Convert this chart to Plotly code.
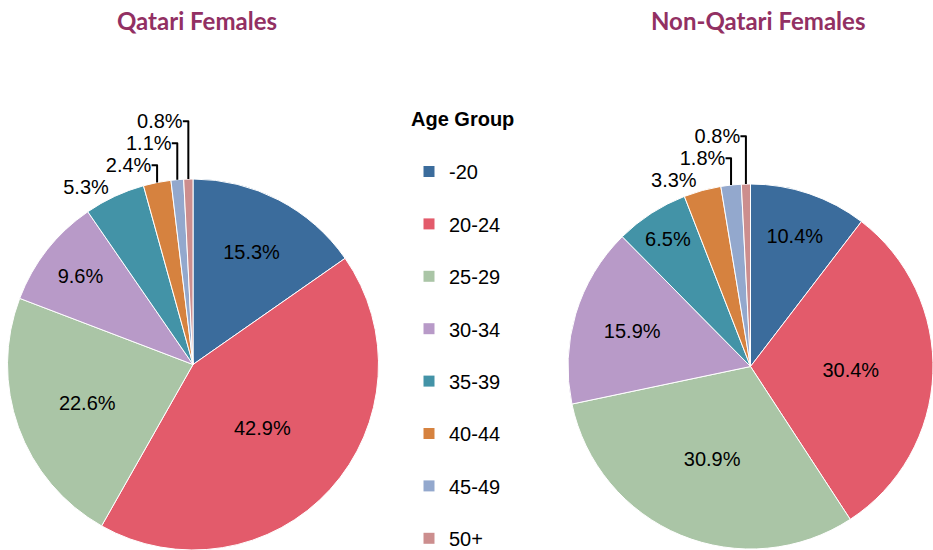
import plotly.graph_objects as go

age_groups = ["-20", "20-24", "25-29", "30-34", "35-39", "40-44", "45-49", "50+"]
qatari_pct = [15.3, 42.9, 22.6, 9.6, 5.3, 2.4, 1.1, 0.8]
non_qatari_pct = [10.4, 30.4, 30.9, 15.9, 6.5, 3.3, 1.8, 0.8]
colors = ["#3B6C9C", "#E35B6B", "#AAC5A6", "#B89AC8", "#4393A7", "#D6823F", "#93A8CD", "#CC8E8E"]
titles = ["Qatari Females", "Non-Qatari Females"]

qatari_pos = ["inside"] * 4 + ["outside"] * 4
non_qatari_pos = ["inside"] * 5 + ["outside"] * 3

FONT = "Liberation Sans, Arial, sans-serif"
TITLE_FONT = "Lato, Open Sans, sans-serif"

fig = go.Figure()


def add_pie(values, positions, domain):
    fig.add_trace(go.Pie(
        labels=age_groups,
        values=values,
        sort=False,
        direction="clockwise",
        rotation=0,
        marker=dict(colors=colors, line=dict(color="white", width=1)),
        texttemplate="%{value:.1f}%",
        textposition=positions,
        insidetextorientation="horizontal",
        textfont=dict(family=FONT, size=20, color="black"),
        insidetextfont=dict(family=FONT, size=20, color="black"),
        outsidetextfont=dict(family=FONT, size=20, color="black"),
        domain=domain,
        showlegend=False,
        automargin=False,
        hoverinfo="label+value",
    ))


add_pie(qatari_pct, qatari_pos, dict(x=[7 / 933, 379 / 933], y=[0, (550 - 179) / 550]))
add_pie(non_qatari_pct, non_qatari_pos, dict(x=[568 / 933, 1.0], y=[0, (550 - 183) / 550]))

# legend entries
for g, c in zip(age_groups, colors):
    fig.add_trace(go.Scatter(
        x=[None], y=[None], mode="markers",
        marker=dict(symbol="square", size=11, color=c),
        name=g, legendgroup=g, showlegend=True,
    ))

fig.update_layout(
    width=933, height=550,
    margin=dict(l=0, r=0, t=0, b=0, pad=0, autoexpand=False),
    paper_bgcolor="white", plot_bgcolor="white",
    xaxis=dict(visible=False), yaxis=dict(visible=False),
    showlegend=True,
    legend=dict(
        x=409 / 933, y=1 - 100 / 550, xanchor="left", yanchor="top",
        title=dict(text="<b>Age Group</b><br> ", font=dict(family=FONT, size=20, color="black")),
        font=dict(family=FONT, size=20, color="black"),
        tracegroupgap=23.4,
        bgcolor="rgba(0,0,0,0)",
    ),
    annotations=[
        dict(text="<b>%s</b>" % titles[0], x=197 / 933, y=1 - 20 / 550, xref="paper", yref="paper",
             showarrow=False, xanchor="center", yanchor="middle",
             font=dict(family=TITLE_FONT, size=24, color="#923063")),
        dict(text="<b>%s</b>" % titles[1], x=758 / 933, y=1 - 20 / 550, xref="paper", yref="paper",
             showarrow=False, xanchor="center", yanchor="middle",
             font=dict(family=TITLE_FONT, size=24, color="#923063")),
    ],
)

fig.write_html(
    "out.html",
    config={"displayModeBar": False},
    post_script="document.body.style.margin='0px';document.body.style.padding='0px';",
)
